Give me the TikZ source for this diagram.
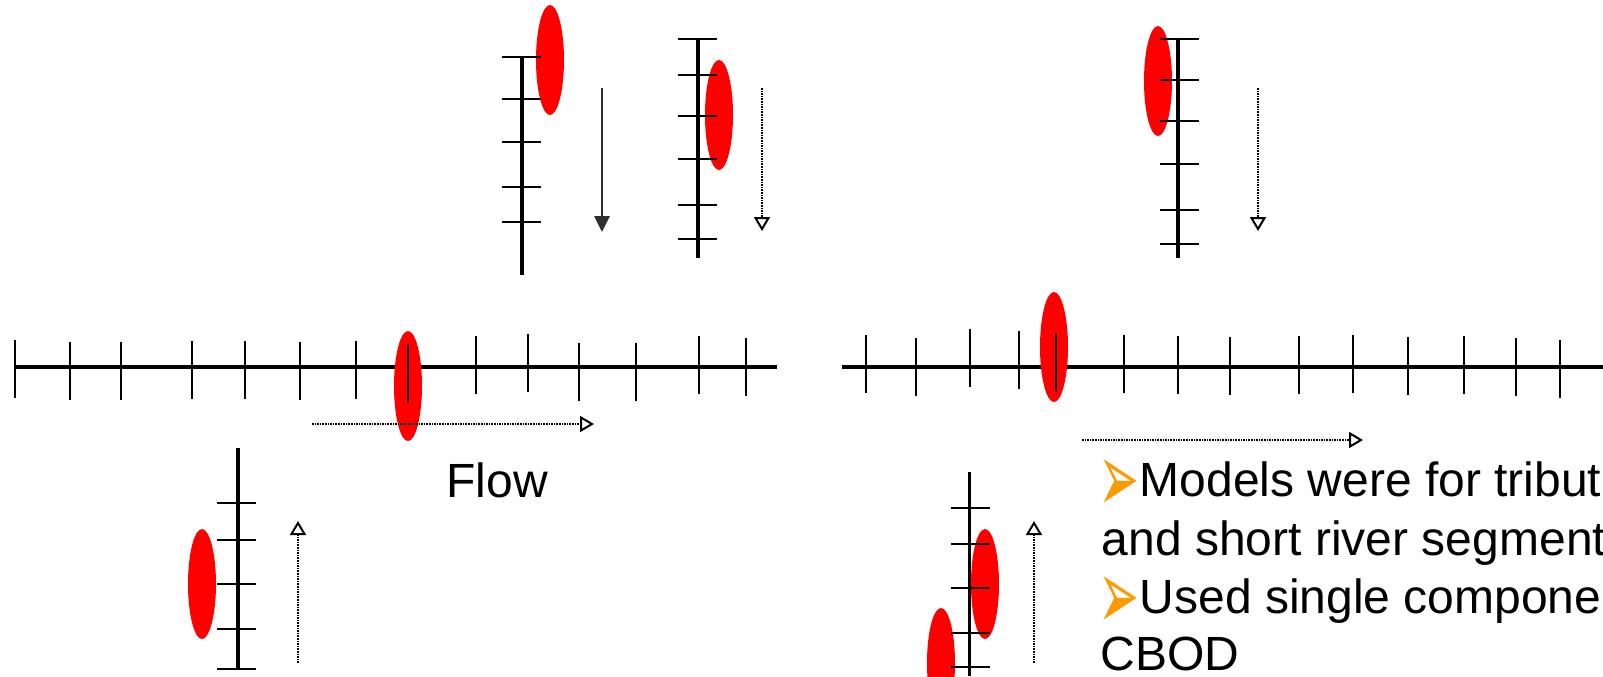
\documentclass[tikz,border=0pt]{standalone}
\usepackage{fontspec}
\setmainfont{Liberation Sans}
\newfontfamily\symfont{DejaVu Sans}
\usetikzlibrary{arrows.meta,shapes.geometric}
\definecolor{bulletorange}{HTML}{FF9900}
\newcommand{\bul}{{\symfont\color{bulletorange}\smash{\raisebox{-8pt}{\resizebox{20.5pt}{26.5pt}{➢}}}}}

\begin{document}
\begin{tikzpicture}[
  x=0.5pt, y=-0.5pt,
  axis/.style={line width=1.8pt},
  tick/.style={line width=0.8pt},
  blob/.style={ellipse, fill=red, draw=none, minimum width=14pt, minimum height=55pt, inner sep=0pt},
  moves/.style={line width=1.3pt, draw=black!82, -{Triangle[width=7.5pt,length=8pt]}},
  drift/.style={line width=1pt, dash pattern=on 0.8pt off 0.5pt, -{Triangle[open,width=8pt,length=7pt]}},
  label/.style={font=\fontsize{24}{29}\selectfont, inner sep=0pt, anchor=base west}
]
  \clip (0,0) rectangle (1603,676);
  % river axes
  \draw[axis] (15,367) -- (777,367);
  \draw[axis] (842,367) -- (1603,367);
  % depth axes
  \draw[axis] (522,57) -- (522,275);
  \draw[axis] (698,39) -- (698,258);
  \draw[axis] (1178,39) -- (1178,258);
  \draw[axis] (238,448) -- (238,668);
  \draw[axis] (969.5,472) -- (969.5,676);
  % pollutant clouds
  \node[blob] (c1) at (550,60) {};
  \node[blob] (c2) at (719,115) {};
  \node[blob] (c3) at (1158,81) {};
  \node[blob] (c4) at (408,386) {};
  \node[blob] (c5) at (1054,347) {};
  \node[blob] (c6) at (202,584) {};
  \node[blob] (c7) at (985,584) {};
  \node[blob] (c8) at (941,663) {};
  % ticks
  \foreach \x/\t in {15/340,70/342,121/342,192/341,245/341,300/342,356/341,408/344,
                     476/336,528/334,579/343,636/343,699/336,746/338}
    \draw[tick] (\x,\t) -- ++(0,58);
  \foreach \x/\t in {866/335,916/338,970/329,1019/331,1056/334,1124/335,1178/336,
                     1230/337,1299/336,1353/335,1408/337,1464/336,1516/338,1560/340}
    \draw[tick] (\x,\t) -- ++(0,58);
  \foreach \y in {57,99,142,187,222}
    \draw[tick] (502,\y) -- ++(39,0);
  \foreach \y in {39,75,116,159,205,239}
    \draw[tick] (678,\y) -- ++(39,0);
  \foreach \y in {39,80,121,164,210,244}
    \draw[tick] (1160,\y) -- ++(39,0);
  \foreach \y in {503,540,584,629,669}
    \draw[tick] (217,\y) -- ++(39,0);
  \foreach \y in {508,544,588,633,667}
    \draw[tick] (951,\y) -- ++(39,0);
  % movement arrows
  \draw[moves] (602,88) -- (602,232);
  \draw[drift] (762,88) -- (762,231);
  \draw[drift] (1258,88) -- (1258,231);
  \draw[drift] (312,424) -- (594,424);
  \draw[drift] (1082,440) -- (1363,440);
  \draw[drift] (298,663) -- (298,521);
  \draw[drift] (1034,663) -- (1034,521);
  % text
  \node[label] (flow) at (446,497) {Flow};
  \node[label] (l1) at (1098.5,496) {\bul Models were for tributaries};
  \node[label] (l2) at (1101.5,555) {and short river segments};
  \node[label] (l3) at (1098.5,613) {\bul Used single component};
  \node[label] (l4) at (1100.5,670) {CBOD};
\end{tikzpicture}
\end{document}
